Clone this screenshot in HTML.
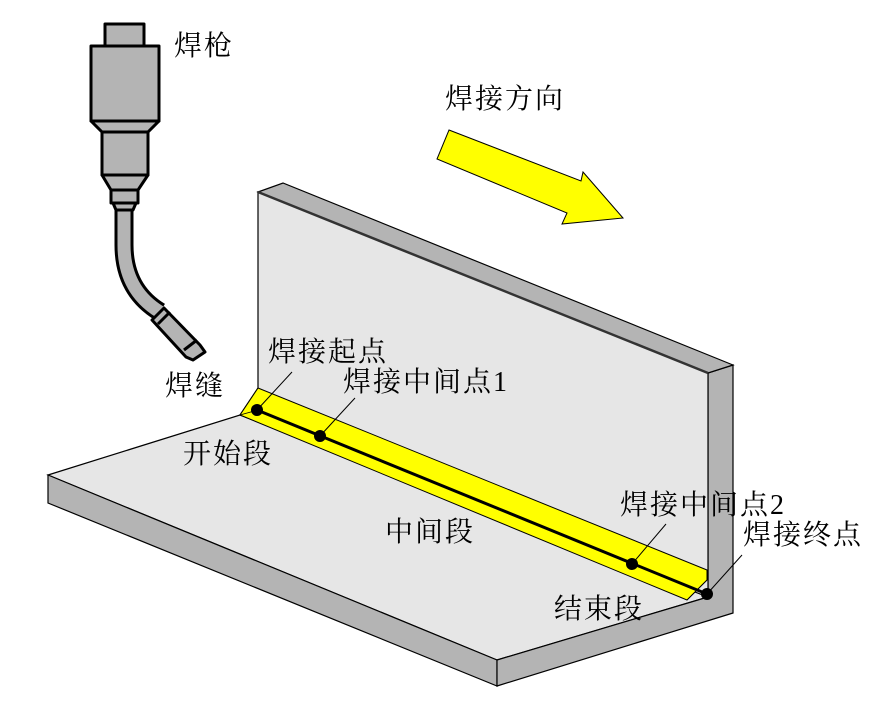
<!DOCTYPE html>
<html><head><meta charset="utf-8"><style>
body{margin:0;background:#fff;}
svg text{font-family:"Liberation Serif","Noto Serif CJK SC",serif;font-size:28px;letter-spacing:2px;fill:#000;}
</style></head><body>
<svg width="890" height="704" viewBox="0 0 890 704" xmlns="http://www.w3.org/2000/svg">
<!-- base plate -->
<polygon points="48,475 240,415 708,597 497,660" fill="#e6e6e6" stroke="#000" stroke-width="1.2"/>
<polygon points="48,475 497,660 497,686 48,503" fill="#b4b4b4" stroke="#000" stroke-width="1.2"/>
<polygon points="497,660 708,597 708,373 733,365 733,613 497,686" fill="#b4b4b4" stroke="#000" stroke-width="1.2"/>
<!-- vertical plate -->
<polygon points="258,192 708,373 708,597 240,415 258,388" fill="#e6e6e6" stroke="#000" stroke-width="1.2"/>
<polygon points="258,192 283,183 733,365 708,373" fill="#b4b4b4" stroke="#000" stroke-width="1.2"/>
<line x1="258" y1="192" x2="708" y2="373" stroke="#333" stroke-width="2.5"/>
<!-- weld -->
<polygon points="258,388 707,570 707,580 687,600 240,415" fill="#ffff00" stroke="#000" stroke-width="1"/>
<line x1="240" y1="415" x2="258" y2="410" stroke="#000" stroke-width="0.8"/>
<line x1="687" y1="600" x2="707" y2="580" stroke="#000" stroke-width="0.8"/>
<line x1="257" y1="410" x2="707" y2="594" stroke="#000" stroke-width="3"/>
<circle cx="257" cy="410" r="6" fill="#000"/>
<circle cx="320" cy="436" r="6" fill="#000"/>
<circle cx="632" cy="564" r="6" fill="#000"/>
<circle cx="707" cy="594" r="6" fill="#000"/>
<!-- leaders -->
<g stroke="#000" stroke-width="1">
<line x1="257" y1="410" x2="292" y2="372"/>
<line x1="320" y1="436" x2="355" y2="398"/>
<line x1="632" y1="564" x2="666" y2="524"/>
<line x1="707" y1="594" x2="742" y2="555"/>
</g>
<!-- arrow -->
<polygon points="449,130 581,181 583,172 623,218 562,224 567,213 437,159" fill="#ffff00" stroke="#000" stroke-width="1"/>
<!-- torch -->
<g fill="#b4b4b4" stroke="#000" stroke-width="3" stroke-linejoin="round">
<path d="M124,205 L124,245 Q124,290 160,312" fill="none" stroke="#000" stroke-width="19" stroke-linecap="butt"/>
<path d="M124,205 L124,245 Q124,290 160,312" fill="none" stroke="#b4b4b4" stroke-width="13"/>
<rect x="105" y="24" width="39" height="22"/>
<rect x="91" y="46" width="68" height="75"/>
<polygon points="91,121 159,121 148,132 102,132"/>
<rect x="102" y="132" width="46" height="43"/>
<polygon points="102,175 148,175 138,190 111,190"/>
<rect x="111" y="190" width="27" height="13"/>
<polygon points="113,203 136,203 133,210 116,210"/>
<polygon points="152,320 164,308 200,345 205,352 193,360 186,357"/>
<line x1="158" y1="324" x2="170" y2="312"/>
<line x1="184" y1="350" x2="197" y2="340"/>
</g>
<!-- labels -->
<text x="174" y="55">焊枪</text>
<text x="445" y="108">焊接方向</text>
<text x="165" y="395">焊缝</text>
<text x="268" y="361">焊接起点</text>
<text x="343" y="391">焊接中间点1</text>
<text x="183" y="463">开始段</text>
<text x="385" y="541">中间段</text>
<text x="620" y="514">焊接中间点2</text>
<text x="743" y="544">焊接终点</text>
<text x="554" y="618">结束段</text>
</svg>
</body></html>
